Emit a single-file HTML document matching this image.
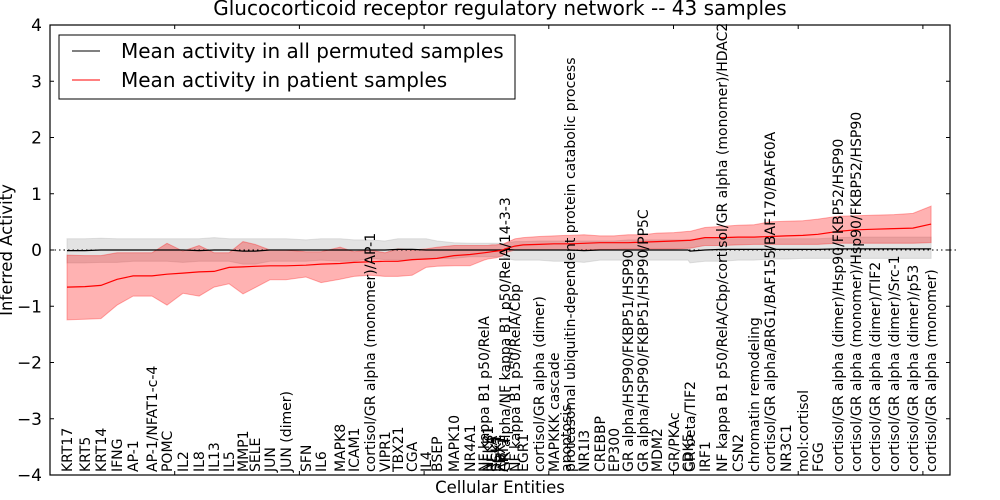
<!DOCTYPE html>
<html><head><meta charset="utf-8"><style>
html,body{margin:0;padding:0;background:#fff;}
svg{display:block;font-family:"DejaVu Sans","Liberation Sans",sans-serif;}
</style></head><body>
<svg id="chart" width="1000" height="500" viewBox="0 0 1000 500">
<text x="500" y="15" font-size="20" text-anchor="middle">Glucocorticoid receptor regulatory network -- 43 samples</text>
<text x="500" y="493" font-size="16.5" text-anchor="middle">Cellular Entities</text>
<text x="12" y="250" font-size="16.5" text-anchor="middle" transform="rotate(-90 12 250)">Inferred Activity</text>
<g id="plot"></g>
</svg>
<script>
const labels=["KRT17","KRT5","KRT14","IFNG","AP-1","AP-1/NFAT1-c-4","POMC","IL2","IL8","IL13","IL5","MMP1","SELE","JUN","JUN (dimer)","SFN","IL6","MAPK8","ICAM1","cortisol/GR alpha (monomer)/AP-1","VIPR1","TBX21","CGA","IL4","BSEP","MAPK10","NR4A1","NF kappa B1 p50/RelA","NFKB1","RELA","SGK1","PBX1","AKT1","GR alpha/NF kappa B1 p50/RelA/14-3-3","NF kappa B1 p50/RelA/Cbp","EGR1","cortisol/GR alpha (dimer)","MAPKKK cascade","apoptosis","proteasomal ubiquitin-dependent protein catabolic process","NR1I3","CREBBP","EP300","GR alpha/HSP90/FKBP51/HSP90","GR alpha/HSP90/FKBP51/HSP90/PP5C","MDM2","GR/PKAc","CDK5","GR beta/TIF2","IRF1","NF kappa B1 p50/RelA/Cbp/cortisol/GR alpha (monomer)/HDAC2","CSN2","chromatin remodeling","cortisol/GR alpha/BRG1/BAF155/BAF170/BAF60A","NR3C1","mol:cortisol","FGG","cortisol/GR alpha (dimer)/Hsp90/FKBP52/HSP90","cortisol/GR alpha (monomer)/Hsp90/FKBP52/HSP90","cortisol/GR alpha (dimer)/TIF2","cortisol/GR alpha (dimer)/Src-1","cortisol/GR alpha (dimer)/p53","cortisol/GR alpha (monomer)"];
const positions=[0.68,1.40,2.04,2.69,3.33,4.09,4.69,5.33,5.98,6.58,7.18,7.74,8.22,8.82,9.46,10.26,10.87,11.63,12.19,12.83,13.43,13.95,14.52,15.08,15.52,16.20,16.84,17.40,17.56,17.72,17.88,18.04,18.16,18.24,18.64,18.97,19.61,20.21,20.69,20.85,21.41,22.05,22.61,23.18,23.78,24.34,25.02,25.58,25.66,26.26,26.94,27.59,28.23,28.87,29.51,30.19,30.79,31.60,32.32,33.08,33.84,34.60,35.33];
const patientMean=[-0.66,-0.65,-0.63,-0.52,-0.46,-0.46,-0.43,-0.41,-0.39,-0.38,-0.31,-0.30,-0.29,-0.28,-0.28,-0.27,-0.25,-0.24,-0.22,-0.21,-0.20,-0.20,-0.17,-0.16,-0.15,-0.10,-0.08,-0.05,-0.04,-0.03,-0.02,-0.01,0.0,0.02,0.07,0.09,0.10,0.11,0.11,0.11,0.12,0.13,0.13,0.13,0.14,0.15,0.16,0.17,0.17,0.22,0.22,0.23,0.23,0.24,0.25,0.26,0.28,0.33,0.36,0.37,0.38,0.39,0.46];
const patientLow=[-1.24,-1.23,-1.22,-0.98,-0.82,-0.82,-0.98,-0.77,-0.82,-0.66,-0.60,-0.78,-0.67,-0.53,-0.53,-0.48,-0.58,-0.52,-0.47,-0.45,-0.47,-0.47,-0.45,-0.31,-0.29,-0.28,-0.28,-0.18,-0.16,-0.15,-0.14,-0.12,-0.10,-0.05,0.0,0.0,0.0,0.0,0.0,0.0,0.0,0.01,0.01,0.02,0.02,0.02,0.02,0.03,0.03,0.08,0.08,0.09,0.10,0.10,0.10,0.10,0.10,0.12,0.12,0.12,0.12,0.12,0.13];
const patientHigh=[-0.09,-0.10,-0.10,-0.05,-0.05,-0.05,0.12,-0.02,0.08,-0.05,-0.05,0.15,0.10,0.0,0.0,-0.03,-0.03,0.05,-0.03,0.0,-0.05,0.02,0.0,0.02,0.05,0.08,0.08,0.08,0.08,0.09,0.09,0.10,0.10,0.12,0.20,0.22,0.24,0.25,0.26,0.26,0.27,0.25,0.25,0.27,0.27,0.30,0.31,0.33,0.33,0.40,0.42,0.44,0.45,0.50,0.51,0.52,0.55,0.60,0.61,0.62,0.63,0.65,0.78];
const permMean=[-0.01,-0.01,0.0,0.0,0.0,0.0,0.0,0.0,-0.01,0.0,0.0,-0.02,-0.02,0.0,0.0,0.0,0.0,0.0,0.0,0.0,0.0,0.01,0.01,0.0,0.0,0.0,0.0,0.0,0.0,0.0,0.0,0.0,0.0,0.01,0.0,0.0,0.0,0.0,0.0,0.0,-0.01,0.0,0.0,0.0,0.0,0.0,0.0,0.0,-0.02,0.0,0.01,0.01,0.01,0.01,0.01,0.01,0.01,0.02,0.02,0.02,0.02,0.02,0.02];
const permLow=[-0.23,-0.23,-0.22,-0.22,-0.2,-0.2,-0.2,-0.22,-0.2,-0.2,-0.2,-0.25,-0.25,-0.2,-0.2,-0.2,-0.18,-0.2,-0.2,-0.15,-0.17,-0.18,-0.18,-0.15,-0.15,-0.15,-0.12,-0.12,-0.12,-0.12,-0.12,-0.12,-0.12,-0.15,-0.18,-0.18,-0.18,-0.2,-0.2,-0.2,-0.22,-0.18,-0.18,-0.18,-0.18,-0.18,-0.18,-0.18,-0.23,-0.2,-0.2,-0.18,-0.18,-0.16,-0.16,-0.15,-0.15,-0.15,-0.15,-0.15,-0.15,-0.15,-0.15];
const permHigh=[0.2,0.2,0.21,0.2,0.2,0.2,0.2,0.2,0.2,0.22,0.2,0.2,0.2,0.2,0.2,0.18,0.2,0.2,0.18,0.18,0.16,0.2,0.2,0.2,0.16,0.13,0.12,0.12,0.12,0.12,0.12,0.12,0.12,0.12,0.15,0.15,0.16,0.16,0.16,0.16,0.16,0.16,0.16,0.18,0.18,0.18,0.18,0.18,0.18,0.2,0.2,0.2,0.2,0.2,0.2,0.2,0.2,0.22,0.23,0.23,0.23,0.23,0.23];
const yTicks=[-4,-3,-2,-1,0,1,2,3,4];
const xTicks=[0,5,10,15,20,25,30,35];

const NS="http://www.w3.org/2000/svg";
const L=50,R=950,T=25,B=475;
const xs=v=>L+v*24.94;
const ys=v=>250-v*56.25;
const g=document.getElementById('plot');
function mk(tag,attrs,parent){const e=document.createElementNS(NS,tag);for(const k in attrs)e.setAttribute(k,attrs[k]);(parent||g).appendChild(e);return e;}
function band(lo,hi,fill,op,name){
  let d="M"+positions.map((p,i)=>xs(p).toFixed(1)+","+ys(hi[i]).toFixed(1)).join("L");
  for(let i=positions.length-1;i>=0;i--)d+="L"+xs(positions[i]).toFixed(1)+","+ys(lo[i]).toFixed(1);
  const e=mk('path',{d:d+"Z",fill:fill,'fill-opacity':op,stroke:fill,'stroke-opacity':op,'stroke-width':1});
  
  
}
function line(vals,color,name){
  const e=mk('polyline',{points:positions.map((p,i)=>xs(p).toFixed(1)+","+ys(vals[i]).toFixed(1)).join(" "),fill:'none',stroke:color,'stroke-width':1.2});
  
  
}
band(permLow,permHigh,'#b0b0b0',0.35,'permuted-range-band');
band(patientLow,patientHigh,'#ff0000',0.3,'patient-range-band');
const zl=mk('line',{x1:L,x2:958,y1:ys(0),y2:ys(0),stroke:'#000','stroke-dasharray':'1.5,3','stroke-width':1});


line(permMean,'#000','permuted-mean-line');
line(patientMean,'#ff0000','patient-mean-line');
labels.forEach((t,i)=>{
  const x=xs(positions[i])+5;
  const e=mk('text',{x:x,y:472,'font-size':14,transform:`rotate(-90 ${x} 472)`});
  e.textContent=t;
  
  
});
const fr=mk('rect',{x:L,y:T,width:R-L,height:B-T,fill:'none',stroke:'#000','stroke-width':1.2});


yTicks.forEach(v=>{
  const y=ys(v);
  mk('line',{x1:L,x2:L+4,y1:y,y2:y,stroke:'#000'});
  mk('line',{x1:R-4,x2:R,y1:y,y2:y,stroke:'#000'});
  const t=mk('text',{x:L-8,y:y+6,'font-size':17,'text-anchor':'end'});
  t.textContent=(v<0?'\u2212':'')+Math.abs(v);
  
  
});
xTicks.forEach(v=>{
  const x=xs(v);
  if(x<=L+1||x>=R)return;
  mk('line',{x1:x,x2:x,y1:B,y2:B-4,stroke:'#000'});
  mk('line',{x1:x,x2:x,y1:T,y2:T+4,stroke:'#000'});
});
const lg=mk('g',{});


mk('rect',{x:59,y:35,width:456,height:64,fill:'#fff',stroke:'#000','stroke-width':1},lg);
mk('line',{x1:72,x2:100,y1:51,y2:51,stroke:'#000','stroke-width':1},lg);
mk('line',{x1:72,x2:100,y1:80,y2:80,stroke:'#f00','stroke-width':1},lg);
const l1=mk('text',{x:121,y:58,'font-size':20},lg);l1.textContent='Mean activity in all permuted samples';


const l2=mk('text',{x:121,y:87,'font-size':20},lg);l2.textContent='Mean activity in patient samples';


</script>
</body></html>
